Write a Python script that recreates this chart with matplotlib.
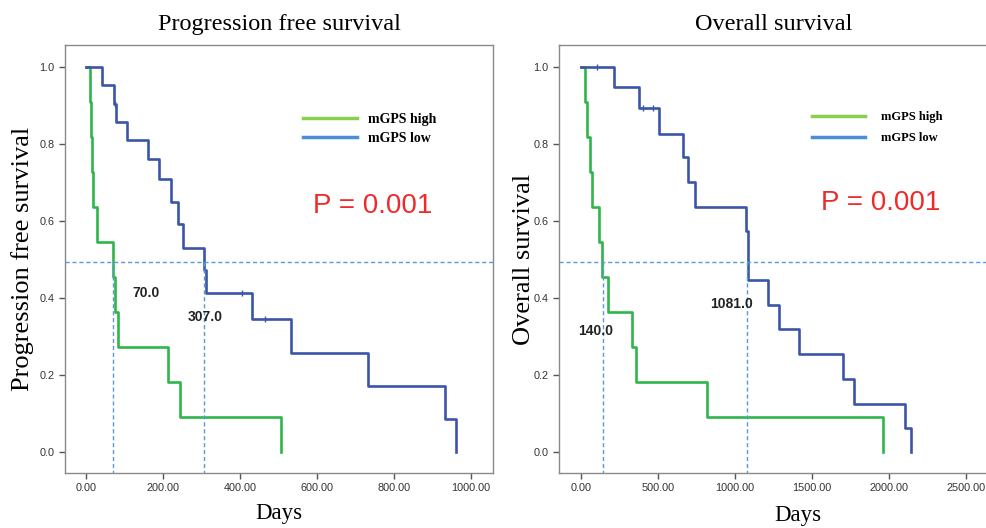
import matplotlib.pyplot as plt
from matplotlib.lines import Line2D
import numpy as np

# --- data (days, survival after each step) ---
pfs_high_t = [0, 10, 12, 16, 18, 29, 70, 75, 83, 213, 244, 506]
pfs_high_s = [1.0, 0.909, 0.818, 0.727, 0.636, 0.545, 0.455, 0.364, 0.273, 0.182, 0.091, 0.0]
pfs_low_t = [0, 42, 73, 77, 106, 161, 190, 221, 240, 252, 307, 312, 431, 532, 733, 932, 961]
pfs_low_s = [1.0, 0.952, 0.905, 0.857, 0.81, 0.76, 0.709, 0.649, 0.592, 0.53, 0.473, 0.413,
             0.345, 0.257, 0.171, 0.086, 0.0]
pfs_low_censor = [75, 405, 465]

os_high_t = [0, 26, 39, 58, 71, 117, 136, 175, 331, 357, 817, 1958]
os_high_s = [1.0, 0.909, 0.818, 0.727, 0.636, 0.545, 0.455, 0.364, 0.273, 0.182, 0.091, 0.0]
os_low_t = [0, 214, 376, 506, 661, 694, 739, 1070, 1083, 1213, 1284, 1414, 1699, 1770, 2101, 2140]
os_low_s = [1.0, 0.949, 0.894, 0.826, 0.767, 0.70, 0.637, 0.574, 0.446, 0.381, 0.318, 0.253,
            0.188, 0.125, 0.0625, 0.0]
os_low_censor = [103, 400, 470]

pfs_medians = [70.0, 307.0]
os_medians = [140.0, 1081.0]
groups = ["mGPS high", "mGPS low"]
p_text = "P = 0.001"

GREEN = "#2fb54a"
BLUE = "#3b55a8"
LEG_GREEN = "#8ccf4f"
LEG_BLUE = "#4a8fd6"
REF = "#5b9bd5"
SERIF = "Liberation Serif"
SANS = "Liberation Sans"


def surv_at(t, s, x):
    idx = np.searchsorted(t, x, side="right") - 1
    return np.array(s)[idx]


def style_axes(ax, right_spine=True):
    for side in ["left", "bottom", "top", "right"]:
        ax.spines[side].set_color("#8a8a8a")
        ax.spines[side].set_linewidth(1.0)
    if not right_spine:
        ax.spines["right"].set_visible(False)
    ax.tick_params(direction="out", length=4, width=1, color="#555555",
                   labelsize=7.8, labelcolor="#333333", top=False, right=False)
    for lab in ax.get_xticklabels() + ax.get_yticklabels():
        lab.set_family(SANS)


fig = plt.figure(figsize=(9.86, 5.28), dpi=100)
ax1 = fig.add_axes([65 / 986, 55 / 528, 428 / 986, 428 / 528])
ax2 = fig.add_axes([559 / 986, 55 / 528, 429 / 986, 428 / 528])

panels = [
    (ax1, pfs_high_t, pfs_high_s, pfs_low_t, pfs_low_s, pfs_low_censor, pfs_medians,
     "Progression free survival", "Progression free survival",
     (-54.5, 1057), np.arange(0, 1001, 200)),
    (ax2, os_high_t, os_high_s, os_low_t, os_low_s, os_low_censor, os_medians,
     "Overall survival", "Overall survival",
     (-143, 2643), np.arange(0, 2501, 500)),
]

for i, (ax, ht, hs, lt, ls, cens, meds, title, ylab, xlim, xt) in enumerate(panels):
    ax.step(ht, hs, where="post", color=GREEN, lw=1.9)
    ax.step(lt, ls, where="post", color=BLUE, lw=1.9)
    ax.plot(cens, surv_at(lt, ls, cens), "|", color=BLUE, ms=5, mew=1)

    # median reference lines
    ax.axhline(0.494, color=REF, lw=1, ls=(0, (3, 2)))
    for m in meds:
        ax.plot([m, m], [0.494, -0.06], color=REF, lw=1, ls=(0, (3, 2)))

    ax.set_xlim(*xlim)
    ax.set_ylim(-0.055, 1.057)
    ax.set_xticks(xt)
    ax.set_xticklabels([f"{v:.2f}" for v in xt])
    ax.set_yticks(np.arange(0, 1.01, 0.2))
    ax.set_yticklabels([f"{v:.1f}" for v in np.arange(0, 1.01, 0.2)])
    style_axes(ax, right_spine=(i == 0))

    ax.set_title(title, family=SERIF, fontsize=17.5, pad=11)
    ax.set_ylabel(ylab, family=SERIF, fontsize=19, labelpad=4)
    ax.set_xlabel("Days", family=SERIF, fontsize=16.5, labelpad=7)

handles = [Line2D([], [], color=LEG_GREEN, lw=2.5), Line2D([], [], color=LEG_BLUE, lw=2.5)]
ax1.legend(handles, groups, loc="upper left", bbox_to_anchor=(0.555, 0.842), frameon=False,
           borderpad=0, borderaxespad=0, handlelength=3.9, handletextpad=0.8,
           labelspacing=0.45, prop=dict(family=SERIF, weight="bold", size=10))
ax2.legend(handles, groups, loc="upper left", bbox_to_anchor=(0.59, 0.846), frameon=False,
           borderpad=0, borderaxespad=0, handlelength=4.2, handletextpad=1.3,
           labelspacing=0.75, prop=dict(family=SERIF, weight="bold", size=9))

ax1.text(0.72, 0.624, p_text, transform=ax1.transAxes, ha="center", va="center",
         color="#ee2a2a", fontsize=20, family=SANS)
ax2.text(0.75, 0.631, p_text, transform=ax2.transAxes, ha="center", va="center",
         color="#ee2a2a", fontsize=20, family=SANS)

# median labels
ax1.text(120, 0.413, f"{pfs_medians[0]:.1f}", fontsize=10, weight="bold", family=SANS,
         va="center", color="#222222")
ax1.text(265, 0.351, f"{pfs_medians[1]:.1f}", fontsize=10, weight="bold", family=SANS,
         va="center", color="#222222")
ax2.text(-19, 0.313, f"{os_medians[0]:.1f}", fontsize=10, weight="bold", family=SANS,
         va="center", color="#222222")
ax2.text(837, 0.384, f"{os_medians[1]:.1f}", fontsize=10, weight="bold", family=SANS,
         va="center", color="#222222")
ax2.xaxis.set_label_coords(0.557, -0.075)
ax2.yaxis.set_label_coords(-0.055, 0.5)

fig.savefig("out.png", dpi=100)
